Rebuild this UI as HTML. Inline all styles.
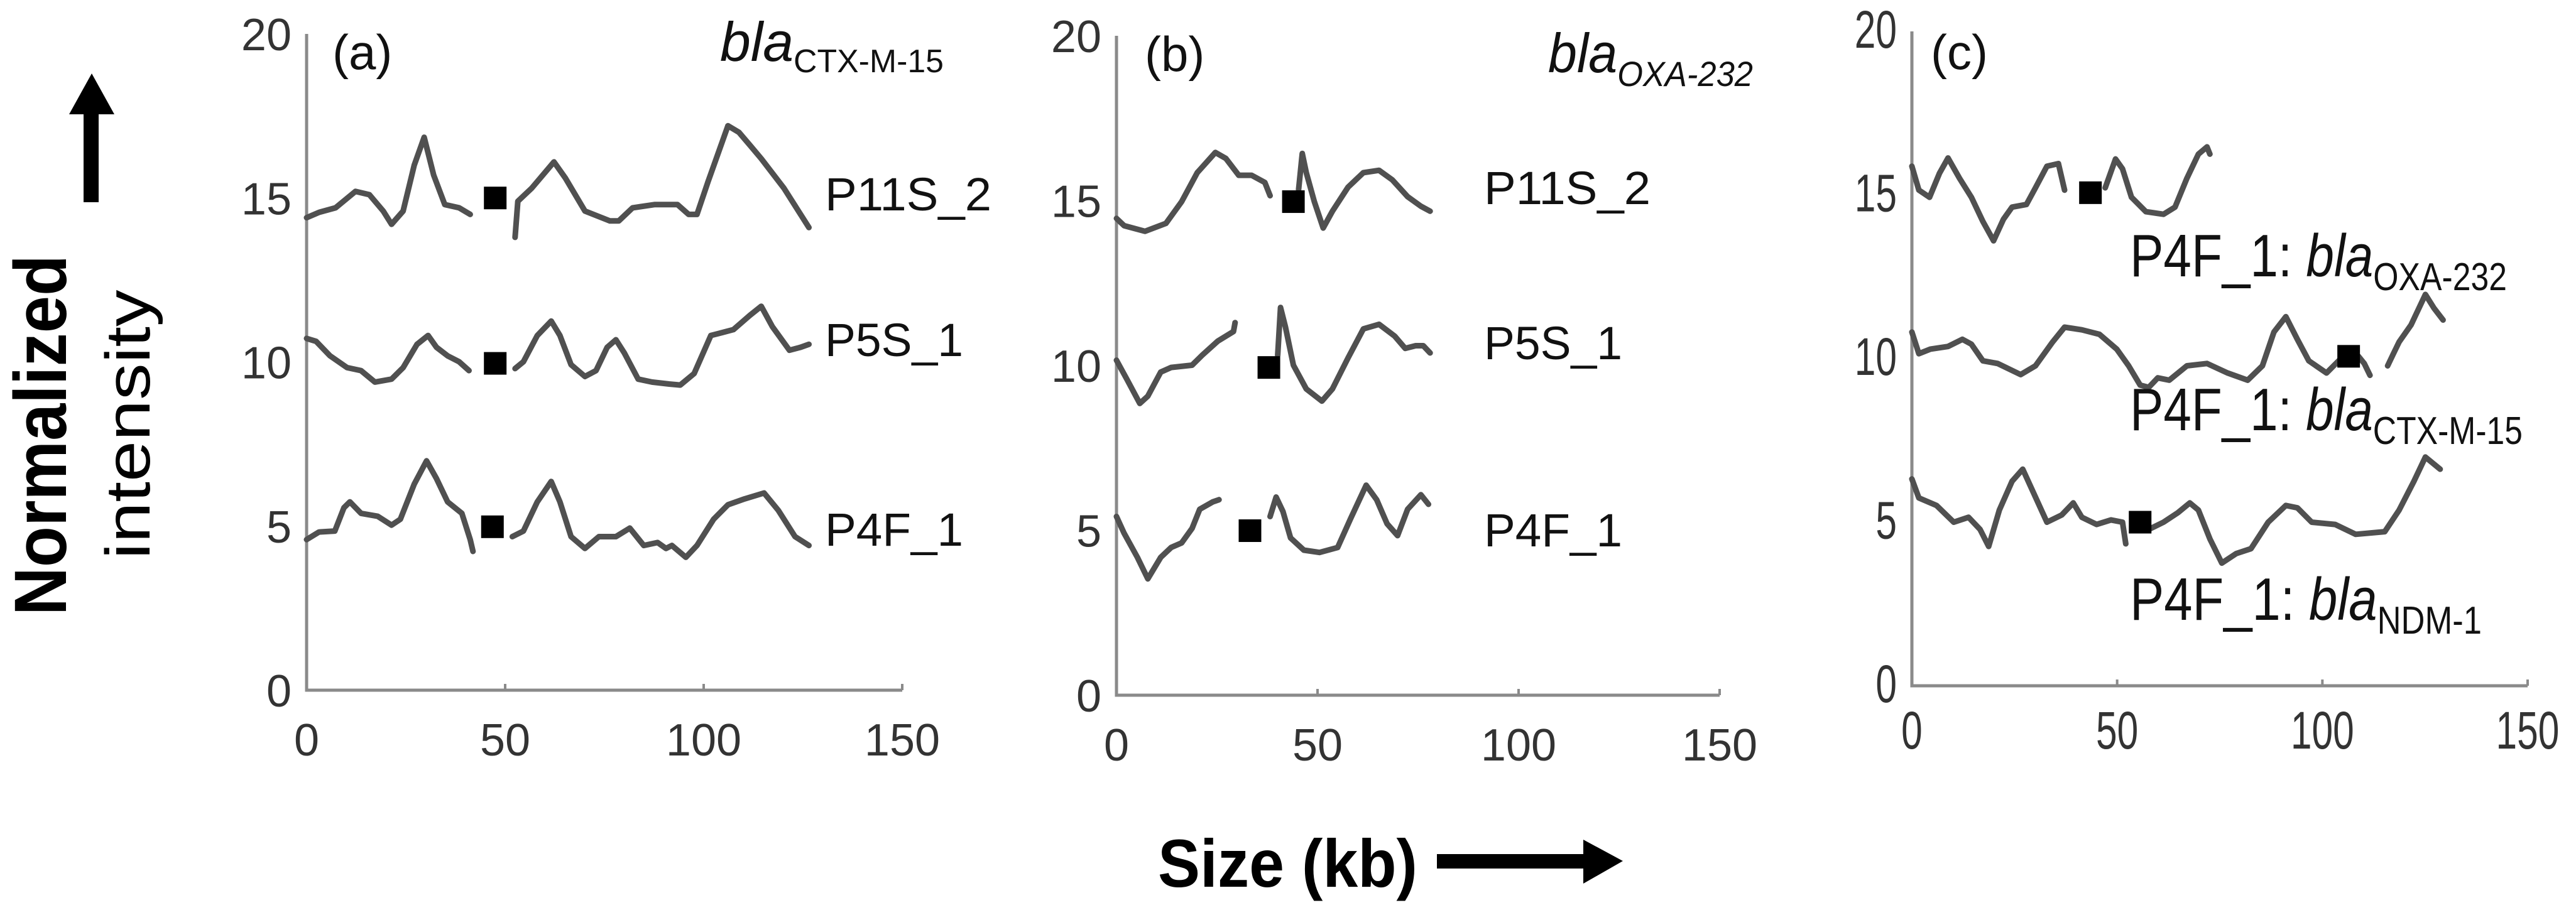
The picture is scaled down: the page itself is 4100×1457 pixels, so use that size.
<!DOCTYPE html>
<html><head><meta charset="utf-8">
<style>
html,body{margin:0;padding:0;background:#fff;}
svg{display:block;font-family:"Liberation Sans",sans-serif;}
</style></head>
<body>
<svg id="chart" width="4100" height="1457" viewBox="0 0 4100 1457">
  <g>
    <text x="105" y="693" font-size="118" font-weight="bold" text-anchor="middle" textLength="574" lengthAdjust="spacingAndGlyphs" transform="rotate(-90 105 693)">Normalized</text>
    <text x="238" y="676" font-size="100" text-anchor="middle" textLength="429" lengthAdjust="spacingAndGlyphs" transform="rotate(-90 238 676)">intensity</text>
    <path d="M133 322 L133 182 L110 182 L146 117 L182 182 L157 182 L157 322 Z" fill="#000"/>
  </g>
  <g>
    <text x="1843" y="1412" font-size="108" font-weight="bold" textLength="413" lengthAdjust="spacingAndGlyphs">Size (kb)</text>
    <path d="M2287 1360 L2520 1360 L2520 1337 L2583 1371 L2520 1407 L2520 1383 L2287 1383 Z" fill="#000"/>
  </g>
</svg>
<script>
// ---- data (kb, normalized intensity) ----
const xTicks = [0, 50, 100, 150];
const yTicks = [0, 5, 10, 15, 20];

// Panel (a) blaCTX-M-15
const aP11S2_x1 = [0,3.1,7.3,12.3,15.8,19.3,21.4,24.3,27.1,29.6,32.0,34.8,38.4,41.2];
const aP11S2_y1 = [14.4,14.56,14.7,15.2,15.1,14.6,14.2,14.6,16.0,16.85,15.7,14.8,14.7,14.5];
const aP11S2_x2 = [52.5,53.2,56.7,62.3,65.2,70.1,76.4,78.6,82.1,87.7,93.4,96.2,98.3,101.1,106.1,108.9,111.7,114.5,120.2,126.5];
const aP11S2_y2 = [13.8,14.9,15.3,16.1,15.6,14.6,14.3,14.3,14.7,14.8,14.8,14.5,14.5,15.5,17.2,17.0,16.6,16.2,15.3,14.1];
const aP5S1_x1 = [0,2.4,5.9,10.2,13.7,17.2,21.4,24.3,27.8,30.6,32.7,35.5,38.4,40.9];
const aP5S1_y1 = [10.72,10.63,10.19,9.83,9.74,9.39,9.48,9.83,10.54,10.81,10.45,10.19,10.01,9.74];
const aP5S1_x2 = [52.5,54.6,58.1,61.6,63.8,66.6,70.1,72.9,75.7,77.9,80.0,83.5,87.0,91.3,94.1,97.6,101.8,104.7,107.5,111.7,114.5,117.3,121.6,124.4,126.5];
const aP5S1_y2 = [9.80,10.01,10.81,11.25,10.81,9.92,9.56,9.74,10.45,10.68,10.28,9.48,9.39,9.33,9.30,9.65,10.81,10.9,10.99,11.43,11.7,11.08,10.36,10.45,10.54];
const aP4F1_x1 = [0,3.1,7.1,9.4,10.9,13.7,17.9,21.4,23.6,27.1,30.2,32.7,35.5,39.1,41.2,41.9];
const aP4F1_y1 = [4.59,4.82,4.85,5.56,5.74,5.39,5.30,5.03,5.21,6.28,6.99,6.45,5.74,5.39,4.59,4.23];
const aP4F1_x2 = [51.8,54.6,58.1,61.6,63.8,66.6,70.1,73.6,77.9,81.4,84.9,88.4,90.5,92.0,95.5,98.3,102.5,106.1,110.3,115.2,118.8,123.0,126.5];
const aP4F1_y2 = [4.68,4.85,5.74,6.36,5.74,4.68,4.32,4.68,4.68,4.94,4.41,4.50,4.32,4.41,4.05,4.41,5.21,5.65,5.83,6.01,5.48,4.68,4.41];
const aMarkX = [47.5, 47.5, 46.8];
const aMarkY = [15.0, 9.96, 4.98];

// Panel (b) blaOXA-232
const bP11S2_x1 = [0,1.9,7.1,12.3,16.2,20.1,24.6,27.2,30.4,33.6,36.9,38.2];
const bP11S2_y1 = [14.46,14.24,14.07,14.31,14.97,15.85,16.46,16.28,15.77,15.77,15.55,15.15];
const bP11S2_x2 = [45.3,46.2,47.2,49.2,51.4,53.7,57.6,61.4,65.3,68.6,72.4,75.7,78.0];
const bP11S2_y2 = [15.34,16.43,15.85,14.97,14.17,14.68,15.41,15.85,15.92,15.63,15.12,14.83,14.68];
const bP5S1_x1 = [0,2.6,5.8,7.8,11.0,13.6,18.8,21.3,25.2,29.1,29.5];
const bP5S1_y1 = [10.16,9.58,8.85,9.07,9.80,9.94,10.01,10.31,10.74,11.03,11.3];
const bP5S1_x2 = [40.1,40.8,42.0,44.0,47.2,51.1,53.7,57.6,61.4,65.3,69.2,71.8,74.4,76.3,78.0];
const bP5S1_y2 = [10.31,11.76,11.18,10.01,9.29,8.92,9.29,10.23,11.11,11.25,10.89,10.52,10.60,10.60,10.38];
const bP4F1_x1 = [0,1.9,5.2,7.8,11.0,13.6,16.2,18.8,20.7,23.9,25.5];
const bP4F1_y1 = [5.42,4.91,4.18,3.53,4.18,4.48,4.62,5.06,5.64,5.86,5.93];
const bP4F1_x2 = [38.2,39.7,41.4,43.3,46.6,50.5,55.0,58.2,62.1,64.7,67.3,69.9,72.4,75.7,77.6];
const bP4F1_y2 = [5.42,6.01,5.57,4.77,4.40,4.33,4.48,5.35,6.37,5.93,5.20,4.84,5.64,6.08,5.79];
const bMarkX = [44.0, 37.9, 33.2];
const bMarkY = [14.97, 9.94, 4.99];

// Panel (c) P4F_1
const cOXA_x1 = [0,1.7,4.3,6.7,8.8,11.6,14.5,17.3,19.9,22.3,24.4,27.9,30.1,32.9,35.7,37.2];
const cOXA_y1 = [15.88,15.15,14.93,15.66,16.13,15.51,14.93,14.19,13.6,14.26,14.63,14.71,15.22,15.88,15.96,15.15];
const cOXA_x2 = [47.1,49.6,51.3,53.5,57.0,61.3,64.1,67.0,69.8,71.9,72.6];
const cOXA_y2 = [15.22,16.1,15.8,14.93,14.49,14.41,14.63,15.51,16.25,16.47,16.25];
const cCTX_x1 = [0,1.7,4.5,8.8,12.3,14.5,17.3,20.9,26.5,30.1,34.3,37.2,41.4,45.7,49.9,52.8,55.6,57.7,59.9,62.7,67.0,71.9,76.9,81.8,85.4,88.2,91.1,93.9,96.7,101.0,104.5,108.8,110.2,111.6];
const cCTX_y1 = [10.81,10.15,10.29,10.37,10.59,10.44,9.93,9.85,9.51,9.78,10.51,10.96,10.88,10.74,10.29,9.78,9.19,9.12,9.41,9.34,9.78,9.85,9.56,9.34,9.78,10.81,11.28,10.59,9.93,9.56,10.0,10.07,9.85,9.49];
const cCTX_x2 = [115.9,117.3,118.7,121.6,125.1,127.2,129.4];
const cCTX_y2 = [9.78,10.15,10.51,11.03,11.96,11.54,11.18];
const cNDM_x1 = [0,1.7,6.0,10.2,13.8,16.6,18.7,21.3,24.4,27.0,29.4,32.9,36.5,39.3,41.4,45.0,48.5,51.3,52.1];
const cNDM_y1 = [6.32,5.74,5.51,5.0,5.15,4.78,4.26,5.37,6.25,6.62,5.96,5.0,5.22,5.59,5.15,4.93,5.07,5.0,4.34];
const cNDM_x2 = [57.7,61.3,64.8,67.7,69.8,72.6,75.5,79.0,82.6,86.8,91.1,93.9,97.4,103.1,108.1,115.2,118.7,122.3,125.1,128.7];
const cNDM_y2 = [4.78,5.0,5.29,5.59,5.37,4.49,3.75,4.04,4.19,5.0,5.51,5.44,5.0,4.93,4.63,4.71,5.37,6.25,6.99,6.62];
const cMarkX = [43.5, 106.4, 55.6];
const cMarkY = [15.07, 10.07, 5.0];

// ---- layout ----
const NS = 'http://www.w3.org/2000/svg';
const svg = document.getElementById('chart');
function mk(tag, attrs, parent){ const e=document.createElementNS(NS,tag); for(const k in attrs) e.setAttribute(k,attrs[k]); (parent||svg).appendChild(e); return e; }

const panels = [
  {id:'a', x0:488, x150:1436, y0:1099, y20:54, cond:false,
   series:[[aP11S2_x1,aP11S2_y1],[aP11S2_x2,aP11S2_y2],[aP5S1_x1,aP5S1_y1],[aP5S1_x2,aP5S1_y2],[aP4F1_x1,aP4F1_y1],[aP4F1_x2,aP4F1_y2]],
   mx:aMarkX, my:aMarkY, labelX:529, labelY:110},
  {id:'b', x0:1777, x150:2737, y0:1107, y20:57, cond:false,
   series:[[bP11S2_x1,bP11S2_y1],[bP11S2_x2,bP11S2_y2],[bP5S1_x1,bP5S1_y1],[bP5S1_x2,bP5S1_y2],[bP4F1_x1,bP4F1_y1],[bP4F1_x2,bP4F1_y2]],
   mx:bMarkX, my:bMarkY, labelX:1822, labelY:113},
  {id:'c', x0:3043, x150:4023, y0:1092, y20:50, cond:true,
   series:[[cOXA_x1,cOXA_y1],[cOXA_x2,cOXA_y2],[cCTX_x1,cCTX_y1],[cCTX_x2,cCTX_y2],[cNDM_x1,cNDM_y1],[cNDM_x2,cNDM_y2]],
   mx:cMarkX, my:cMarkY, labelX:3073, labelY:110}
];

panels.forEach(p=>{
  const sx = v => p.x0 + (v/150)*(p.x150-p.x0);
  const sy = v => p.y0 - (v/20)*(p.y0-p.y20);
  const g = mk('g',{});
  
  
  const ax = mk('path',{d:`M${p.x0} ${p.y20} L${p.x0} ${p.y0} L${p.x150} ${p.y0}`, fill:'none', stroke:'#8a8a8a','stroke-width':5}, g);
  
  
  xTicks.forEach(t=>{
    const tk = mk('line',{x1:sx(t),x2:sx(t),y1:p.y0,y2:p.y0-10,stroke:'#8a8a8a','stroke-width':4}, g);
    
    
    const tl = mk('text',{x:sx(t), y:p.y0+(p.cond?100:104), 'font-size':p.cond?84:72, 'text-anchor':'middle', fill:'#333'}, g);
    if(p.cond){ tl.setAttribute('transform',`translate(${sx(t)} 0) scale(0.72 1) translate(${-sx(t)} 0)`); }
    tl.textContent = t;
    
    
  });
  yTicks.forEach(t=>{
    const tl = mk('text',{x:p.x0-24, y:sy(t)+26, 'font-size':p.cond?84:72, 'text-anchor':'end', fill:'#333'}, g);
    if(p.cond){ const xx=p.x0-24; tl.setAttribute('transform',`translate(${xx} 0) scale(0.72 1) translate(${-xx} 0)`); }
    tl.textContent = t;
    
    
  });
  p.series.forEach((s,i)=>{
    const d = s[0].map((x,j)=>(j?'L':'M')+sx(x).toFixed(1)+' '+sy(s[1][j]).toFixed(1)).join(' ');
    const pl = mk('path',{d, fill:'none', stroke:'#505050','stroke-width':9,'stroke-linejoin':'round','stroke-linecap':'round'}, g);
    
    
  });
  p.mx.forEach((x,i)=>{
    const r = mk('rect',{x:sx(x)-18, y:sy(p.my[i])-18, width:36, height:36, fill:'#000'}, g);
    
    
  });
  const pl = mk('text',{x:p.labelX, y:p.labelY, 'font-size':78, fill:'#111'}, g);
  pl.textContent = '('+p.id+')';
  
  
});

function label(x,y,txt,name,fs,len){
  const t = mk('text',{x, y, 'font-size':fs, fill:'#111'});
  if(len){ t.setAttribute('textLength',len); t.setAttribute('lengthAdjust','spacingAndGlyphs'); }
  t.textContent = txt;
  
  
}
label(1313,335,'P11S_2','label-a-p11s2',74,265);
label(1313,567,'P5S_1','label-a-p5s1',74,220);
label(1313,869,'P4F_1','label-a-p4f1',74,220);
label(2362,325,'P11S_2','label-b-p11s2',74,265);
label(2362,572,'P5S_1','label-b-p5s1',74,220);
label(2362,870,'P4F_1','label-b-p4f1',74,220);

function blaLabel(x,y,pre,sub,name,fs,subfs,subdy,italicSub,len){
  const t = mk('text',{x, y, 'font-size':fs, fill:'#111'});
  if(len){ t.setAttribute('textLength',len); t.setAttribute('lengthAdjust','spacingAndGlyphs'); }
  
  
  if(pre){ const a=mk('tspan',{},t); a.textContent=pre; }
  const b=mk('tspan',{'font-style':'italic'},t); b.textContent='bla';
  const c=mk('tspan',{'font-size':subfs, dy:subdy},t); if(italicSub) c.setAttribute('font-style','italic'); c.textContent=sub;
}
blaLabel(1146,97,'','CTX-M-15','title-a',88,52,18,false,356);
blaLabel(2464,115,'','OXA-232','title-b',88,56,22,true,326);
blaLabel(3390,440,'P4F_1: ','OXA-232','label-c-oxa232',96,62,22,false,600);
blaLabel(3390,685,'P4F_1: ','CTX-M-15','label-c-ctxm15',96,62,22,false,625);
blaLabel(3390,987,'P4F_1: ','NDM-1','label-c-ndm1',96,62,22,false,560);
</script>
</body></html>
